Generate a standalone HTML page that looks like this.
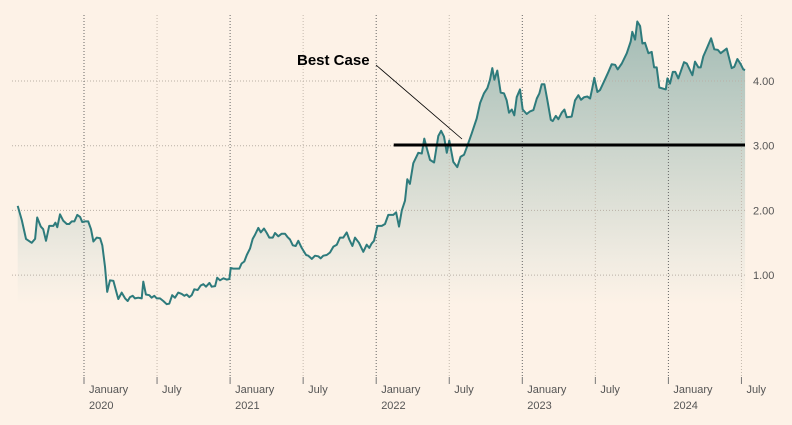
<!DOCTYPE html>
<html><head><meta charset="utf-8"><style>
html,body{margin:0;padding:0;background:#fdf2e7;}
svg{display:block;font-family:"Liberation Sans",sans-serif;}
</style></head><body>
<svg id="chart" width="792" height="425" viewBox="0 0 792 425" xmlns="http://www.w3.org/2000/svg">
<defs><linearGradient id="fillg" gradientUnits="userSpaceOnUse" x1="0" y1="20" x2="0" y2="305">
<stop offset="0" stop-color="#a2bbb4"/><stop offset="0.85" stop-color="#f1ece2"/><stop offset="1" stop-color="#fdf2e7"/></linearGradient></defs>
<rect width="792" height="425" fill="#fdf2e7"/>
<g id="area"></g><g id="grid"></g><g id="linegrp"></g><g id="annot"></g><g id="axes"></g>
</svg>
<script>
const dates=[2019.546,2019.574,2019.603,2019.642,2019.665,2019.680,2019.704,2019.721,2019.740,2019.762,2019.790,2019.804,2019.817,2019.836,2019.858,2019.882,2019.899,2019.916,2019.934,2019.954,2019.973,2019.988,2020.007,2020.029,2020.048,2020.064,2020.087,2020.110,2020.125,2020.144,2020.159,2020.178,2020.201,2020.224,2020.235,2020.258,2020.281,2020.299,2020.315,2020.333,2020.349,2020.372,2020.395,2020.406,2020.424,2020.447,2020.463,2020.481,2020.498,2020.520,2020.543,2020.566,2020.584,2020.604,2020.623,2020.645,2020.669,2020.687,2020.703,2020.721,2020.737,2020.755,2020.778,2020.799,2020.817,2020.835,2020.858,2020.874,2020.897,2020.912,2020.931,2020.954,2020.977,2020.995,2021.004,2021.022,2021.063,2021.079,2021.097,2021.114,2021.136,2021.155,2021.170,2021.193,2021.210,2021.232,2021.251,2021.268,2021.292,2021.307,2021.330,2021.353,2021.376,2021.392,2021.410,2021.429,2021.449,2021.467,2021.490,2021.520,2021.535,2021.559,2021.581,2021.604,2021.620,2021.638,2021.661,2021.684,2021.707,2021.730,2021.752,2021.775,2021.798,2021.816,2021.837,2021.855,2021.882,2021.912,2021.935,2021.953,2021.969,2021.985,2022.008,2022.038,2022.060,2022.083,2022.117,2022.136,2022.156,2022.175,2022.197,2022.213,2022.231,2022.254,2022.288,2022.312,2022.329,2022.346,2022.368,2022.396,2022.425,2022.444,2022.464,2022.483,2022.500,2022.528,2022.555,2022.578,2022.601,2022.624,2022.654,2022.688,2022.711,2022.738,2022.761,2022.779,2022.795,2022.809,2022.829,2022.852,2022.875,2022.893,2022.909,2022.928,2022.945,2022.962,2022.984,2023.003,2023.030,2023.053,2023.076,2023.099,2023.117,2023.133,2023.151,2023.171,2023.195,2023.208,2023.229,2023.247,2023.270,2023.288,2023.304,2023.338,2023.361,2023.384,2023.402,2023.423,2023.445,2023.464,2023.479,2023.493,2023.514,2023.532,2023.559,2023.589,2023.612,2023.635,2023.653,2023.681,2023.715,2023.742,2023.753,2023.772,2023.787,2023.806,2023.822,2023.840,2023.863,2023.886,2023.902,2023.920,2023.938,2023.982,2023.993,2024.011,2024.030,2024.047,2024.068,2024.107,2024.126,2024.164,2024.182,2024.205,2024.221,2024.239,2024.262,2024.292,2024.314,2024.338,2024.358,2024.399,2024.433,2024.451,2024.472,2024.495,2024.513,2024.525];
const values=[2.07,1.85,1.56,1.50,1.56,1.89,1.75,1.71,1.53,1.76,1.76,1.81,1.74,1.94,1.84,1.79,1.79,1.83,1.83,1.93,1.90,1.82,1.83,1.83,1.71,1.52,1.58,1.57,1.46,1.13,0.74,0.92,0.91,0.72,0.63,0.73,0.64,0.60,0.66,0.68,0.64,0.65,0.64,0.90,0.70,0.69,0.65,0.68,0.64,0.64,0.60,0.55,0.56,0.69,0.65,0.73,0.71,0.68,0.70,0.66,0.69,0.78,0.77,0.84,0.86,0.82,0.88,0.82,0.83,0.96,0.92,0.95,0.93,0.94,1.11,1.10,1.10,1.18,1.21,1.31,1.41,1.56,1.62,1.73,1.66,1.72,1.65,1.58,1.58,1.65,1.60,1.64,1.64,1.59,1.55,1.46,1.45,1.53,1.42,1.31,1.30,1.25,1.30,1.29,1.26,1.30,1.31,1.35,1.44,1.47,1.58,1.58,1.66,1.55,1.45,1.58,1.50,1.36,1.47,1.42,1.49,1.53,1.76,1.76,1.79,1.93,1.93,1.97,1.75,2.00,2.15,2.48,2.41,2.73,2.89,2.88,3.11,2.96,2.78,2.74,3.15,3.23,3.14,2.89,3.08,2.75,2.67,2.83,2.86,3.00,3.19,3.42,3.66,3.81,3.89,4.02,4.20,4.02,4.16,3.82,3.81,3.70,3.51,3.56,3.47,3.75,3.87,3.56,3.49,3.53,3.55,3.73,3.81,3.95,3.95,3.71,3.40,3.38,3.46,3.41,3.51,3.56,3.44,3.45,3.70,3.78,3.71,3.75,3.76,3.73,3.89,4.05,3.83,3.86,3.99,4.14,4.26,4.25,4.18,4.27,4.43,4.61,4.76,4.64,4.92,4.85,4.58,4.59,4.43,4.45,4.21,4.21,3.90,3.87,4.04,3.96,4.14,4.14,4.04,4.29,4.27,4.09,4.30,4.21,4.21,4.38,4.50,4.66,4.49,4.48,4.43,4.50,4.20,4.22,4.34,4.26,4.18,4.17];
const yTicks=[1,2,3,4];
const yTickLabels=["1.00","2.00","3.00","4.00"];
const xTicks=[2020,2020.5,2021,2021.5,2022,2022.5,2023,2023.5,2024,2024.5];
const xTickLabels=["January","July","January","July","January","July","January","July","January","July"];
const yearLabels=["2020","","2021","","2022","","2023","","2024",""];
const bestCase=[3.01];
const bestCaseLabel=["Best Case"];
const bestCaseStart=[2022.12];

const NS="http://www.w3.org/2000/svg";
const X=t=>84+(t-2020)*146.1;
const Y=v=>81+(4-v)*64.7;
function mk(tag,attrs,parent){const e=document.createElementNS(NS,tag);for(const k in attrs)e.setAttribute(k,attrs[k]);parent.appendChild(e);return e;}
const grid=document.getElementById('grid'),area=document.getElementById('area'),linegrp=document.getElementById('linegrp'),annot=document.getElementById('annot'),axes=document.getElementById('axes');

yTicks.forEach((v,i)=>{
  const l=mk('line',{x1:12,x2:745,y1:Y(v),y2:Y(v),stroke:'#b9b0a6','stroke-width':1,'stroke-dasharray':'1,2'},grid);
  
  
  const t=mk('text',{x:753,y:Y(v)+4,'font-size':11,fill:'#555'},axes);
  t.textContent=yTickLabels[i];
  
  
});
xTicks.forEach((d,i)=>{
  const major=xTickLabels[i]==="January";
  const l=mk('line',{x1:X(d),x2:X(d),y1:15,y2:378,stroke:major?'#666':'#c4b9ad','stroke-width':1,'stroke-dasharray':'1,2'},grid);
  
  
  const tk=mk('line',{x1:X(d),x2:X(d),y1:377,y2:384,stroke:'#777','stroke-width':1},axes);
  
  
  const t=mk('text',{x:X(d)+5,y:393,'font-size':11,fill:'#555'},axes);
  t.textContent=xTickLabels[i];
  
  
  if(yearLabels[i]){
    const y=mk('text',{x:X(d)+5,y:409,'font-size':11,fill:'#555'},axes);
    y.textContent=yearLabels[i];
    
    
  }
});

let pts=dates.map((d,i)=>X(d).toFixed(1)+','+Y(values[i]).toFixed(1));
const fill=mk('path',{d:'M'+X(dates[0])+',305 L'+pts.join(' L')+' L'+X(dates[dates.length-1])+',305 Z',fill:'url(#fillg)',stroke:'none'},area);


const line=mk('path',{d:'M'+pts.join(' L'),fill:'none',stroke:'#2e7b7c','stroke-width':2,'stroke-linejoin':'round'},linegrp);



const bc=mk('line',{x1:X(bestCaseStart[0]),x2:745,y1:Y(bestCase[0]),y2:Y(bestCase[0]),stroke:'#000','stroke-width':3},annot);


const ld=mk('line',{x1:376,y1:65,x2:462,y2:139,stroke:'#000','stroke-width':0.8},annot);


const bt=mk('text',{x:297,y:65,'font-size':15,'font-weight':'bold',fill:'#000'},annot);
bt.textContent=bestCaseLabel[0];


</script>
</body></html>
